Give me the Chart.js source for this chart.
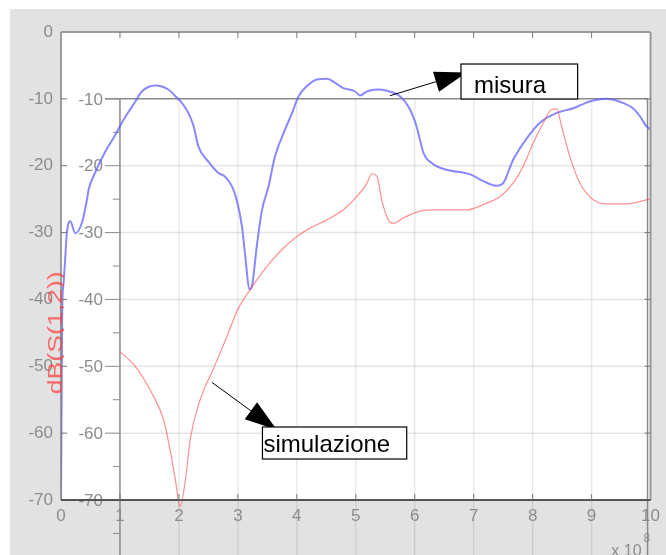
<!DOCTYPE html>
<html>
<head>
<meta charset="utf-8">
<script src="https://cdn.jsdelivr.net/npm/chart.js@4/dist/chart.umd.min.js"></script>
<style>
  html, body { margin: 0; padding: 0; background: #fff; }
  #fig { position: absolute; left: 10px; top: 9px; width: 656px; height: 546px; background: #e2e2e2; overflow: hidden; }
  canvas { display: block; }
</style>
</head>
<body>
<div id="fig"><canvas id="c" width="656" height="546"></canvas></div>
<script>
// Frequency axis (units of 1e8 Hz) and |S21| in dB
const misuraX = [0, 0.01, 0.02, 0.044, 0.073, 0.10, 0.158, 0.242, 0.356, 0.44, 0.468, 0.58, 0.75, 0.92, 1.03, 1.15, 1.26, 1.37, 1.60, 1.82, 1.94, 2.05, 2.16, 2.25, 2.33, 2.50, 2.67, 2.78, 2.90, 2.98, 3.07, 3.12, 3.20, 3.24, 3.32, 3.41, 3.52, 3.63, 3.80, 3.92, 4.03, 4.17, 4.34, 4.51, 4.65, 4.79, 4.99, 5.07, 5.19, 5.36, 5.53, 5.75, 5.92, 6.03, 6.15, 6.32, 6.54, 6.94, 7.16, 7.39, 7.50, 7.67, 7.90, 8.12, 8.41, 8.69, 8.97, 9.25, 9.47, 9.70, 9.82, 9.93, 10.0];
const misuraY = [-70, -56, -42, -37.5, -33.6, -30.0, -28.3, -30.1, -28.5, -25.1, -23.6, -21.0, -17.9, -15.4, -13.6, -11.9, -10.4, -8.9, -8.0, -8.6, -9.6, -10.6, -12.1, -14.1, -17.1, -19.4, -21.1, -21.6, -23.1, -25.1, -29.1, -33.1, -38.5, -38.0, -32.1, -26.6, -23.1, -18.6, -14.6, -12.1, -9.6, -8.1, -7.1, -7.0, -7.6, -8.4, -8.9, -9.5, -8.9, -8.6, -8.8, -9.6, -11.6, -14.1, -18.1, -19.8, -20.6, -21.3, -22.3, -23.0, -22.6, -19.1, -15.9, -13.6, -12.1, -11.4, -10.4, -10.0, -10.4, -11.4, -12.6, -14.1, -14.6];

const simX = [1.0, 1.26, 1.54, 1.74, 1.85, 1.94, 2.02, 2.11, 2.19, 2.36, 2.58, 2.78, 3.01, 3.21, 3.49, 3.72, 4.0, 4.23, 4.51, 4.79, 5.02, 5.19, 5.27, 5.36, 5.44, 5.55, 5.64, 5.81, 6.09, 6.32, 6.88, 7.22, 7.45, 7.67, 7.84, 8.01, 8.18, 8.32, 8.41, 8.49, 8.63, 8.80, 9.03, 9.25, 9.59, 9.93, 10.0];
const simY = [-47.8, -50.0, -54.0, -58.0, -62.5, -67.0, -71.0, -67.0, -61.0, -55.0, -50.5, -46.3, -41.3, -38.5, -35.1, -32.8, -30.6, -29.3, -28.1, -26.6, -24.6, -22.6, -21.2, -21.6, -25.1, -28.1, -28.6, -27.8, -26.8, -26.6, -26.6, -25.6, -24.6, -22.6, -20.1, -16.6, -13.6, -11.6, -11.5, -14.1, -18.6, -22.6, -25.1, -25.7, -25.7, -25.1, -24.9];

// Tick values
const xTicks = [0, 1, 2, 3, 4, 5, 6, 7, 8, 9, 10];
const yTicks = [0, -10, -20, -30, -40, -50, -60, -70];
const innerYTicks = [-10, -20, -30, -40, -50, -60, -70];
const innerGridX = [2, 3, 4, 5, 6, 7, 8, 9];
const innerGridY = [-20, -30, -40, -50, -60];

// Text callouts: box corners, arrow tail/tip in data units
const callouts = [
  { text: 'misura', box: [6.785, -4.79, 8.763, -10.02], tail: [5.58, -9.53], tip: [6.88, -6.04], dx: 13, dy: 29 },
  { text: 'simulazione', box: [3.417, -59.08, 5.864, -63.87], tail: [2.56, -52.41], tip: [3.66, -59.48], dx: 1, dy: 25.5 }
];

const FONT = '"Liberation Sans", Arial, sans-serif';
const TICK_COLOR = '#8c8c8c';

function line(ctx, x1, y1, x2, y2) {
  ctx.beginPath(); ctx.moveTo(x1, y1); ctx.lineTo(x2, y2); ctx.stroke();
}

const framePlugin = {
  id: 'frame',
  beforeDraw(chart) {
    const { ctx, chartArea: a, scales: { x, y } } = chart;
    const H = chart.height;
    const ix = x.getPixelForValue(1);
    const iTop = y.getPixelForValue(-10);
    const iRight = a.right - 3;
    ctx.save();
    // plot background
    ctx.fillStyle = '#ffffff';
    ctx.fillRect(a.left, a.top, a.right - a.left, a.bottom - a.top);

    // secondary axes grid
    ctx.lineWidth = 1.5;
    ctx.strokeStyle = 'rgba(0,0,0,0.085)';
    innerGridX.forEach(v => { const px = x.getPixelForValue(v); line(ctx, px, iTop, px, H); });
    ctx.strokeStyle = 'rgba(0,0,0,0.1)';
    innerGridY.forEach(v => { const py = y.getPixelForValue(v); line(ctx, ix, py, iRight, py); });

    // secondary axes box
    ctx.strokeStyle = '#8a8a8a';
    ctx.lineWidth = 1.5;
    line(ctx, ix - 15, iTop, iRight, iTop);
    line(ctx, ix, iTop, ix, H);
    line(ctx, iRight, iTop, iRight, H);

    // secondary y ticks (outside, major + minor)
    ctx.lineWidth = 1;
    ctx.strokeStyle = '#8a8a8a';
    for (let v = -10; v >= -85; v -= 5) {
      const py = y.getPixelForValue(v);
      if (py > H) break;
      const len = (v % 10 === 0) ? 15 : 7;
      line(ctx, ix - len, py, ix, py);
    }
    // secondary y labels
    ctx.fillStyle = TICK_COLOR;
    ctx.font = '17px ' + FONT;
    ctx.textAlign = 'right';
    ctx.textBaseline = 'middle';
    innerYTicks.forEach(v => ctx.fillText(String(v), ix - 17, y.getPixelForValue(v) + 1));
    ctx.restore();
  },
  afterDatasetsDraw(chart) {
    const { ctx, chartArea: a, scales: { x, y } } = chart;
    const H = chart.height;
    ctx.save();
    // main axes box
    ctx.lineWidth = 1.5;
    ctx.strokeStyle = '#808080';
    line(ctx, a.left, a.top, a.left, a.bottom);
    ctx.lineWidth = 2;
    ctx.strokeStyle = '#999999';
    line(ctx, a.left, a.top, a.right, a.top);
    line(ctx, a.right, a.top, a.right, a.bottom);
    ctx.strokeStyle = '#555555';
    line(ctx, a.left, a.bottom, a.right, a.bottom);

    // inward tick marks
    ctx.lineWidth = 1;
    ctx.strokeStyle = '#777777';
    xTicks.slice(1, -1).forEach(v => {
      const px = x.getPixelForValue(v);
      line(ctx, px, a.top, px, a.top + 6);
      line(ctx, px, a.bottom, px, a.bottom - 6);
    });
    yTicks.slice(1, -1).forEach(v => {
      const py = y.getPixelForValue(v);
      line(ctx, a.left, py, a.left + 6, py);
      line(ctx, a.right, py, a.right - 6, py);
    });

    // callouts
    callouts.forEach(c => {
      const bx0 = x.getPixelForValue(c.box[0]), by0 = y.getPixelForValue(c.box[1]);
      const bx1 = x.getPixelForValue(c.box[2]), by1 = y.getPixelForValue(c.box[3]);
      const tx = x.getPixelForValue(c.tail[0]), ty = y.getPixelForValue(c.tail[1]);
      const px = x.getPixelForValue(c.tip[0]), py = y.getPixelForValue(c.tip[1]);
      const dxv = px - tx, dyv = py - ty, L = Math.hypot(dxv, dyv);
      const ux = dxv / L, uy = dyv / L;
      const headLen = 32, headHalf = 10.5;
      const bxm = px - ux * headLen, bym = py - uy * headLen;
      ctx.strokeStyle = '#000'; ctx.lineWidth = 1;
      line(ctx, tx, ty, bxm, bym);
      ctx.fillStyle = '#000';
      ctx.beginPath();
      ctx.moveTo(px, py);
      ctx.lineTo(bxm - uy * headHalf, bym + ux * headHalf);
      ctx.lineTo(bxm + uy * headHalf, bym - ux * headHalf);
      ctx.closePath();
      ctx.fill();
      ctx.fillStyle = '#fff';
      ctx.fillRect(bx0, by0, bx1 - bx0, by1 - by0);
      ctx.lineWidth = 1.2;
      ctx.strokeRect(bx0, by0, bx1 - bx0, by1 - by0);
      ctx.fillStyle = '#000';
      ctx.font = '24px ' + FONT;
      ctx.textAlign = 'left';
      ctx.textBaseline = 'alphabetic';
      ctx.fillText(c.text, bx0 + c.dx, by0 + c.dy);
    });

    // exponent label
    ctx.fillStyle = TICK_COLOR;
    ctx.font = '16px ' + FONT;
    ctx.textAlign = 'right';
    ctx.textBaseline = 'alphabetic';
    ctx.fillText('x 10', a.right - 9, H + 1);
    ctx.font = '12px ' + FONT;
    ctx.textAlign = 'left';
    ctx.fillText('8', a.right - 7, H - 13);

    // y axis title (stretched, its lower edge tucked under the plot box)
    ctx.beginPath();
    ctx.rect(0, 0, a.left + 3, H);
    ctx.clip();
    ctx.translate(a.left + 1, y.getPixelForValue(-45));
    ctx.rotate(-Math.PI / 2);
    ctx.scale(1.27, 1);
    ctx.fillStyle = 'rgba(255,60,60,0.72)';
    ctx.font = '21px ' + FONT;
    ctx.textAlign = 'center';
    ctx.textBaseline = 'alphabetic';
    ctx.fillText('dB(S(1,2))', 0, 0);
    ctx.restore();
  }
};

const toPts = (xs, ys) => xs.map((v, i) => ({ x: v, y: ys[i] }));

new Chart(document.getElementById('c'), {
  type: 'line',
  data: {
    datasets: [
      {
        label: 'simulazione',
        data: toPts(simX, simY),
        borderColor: 'rgba(255,70,70,0.6)',
        borderWidth: 1.2,
        pointRadius: 0,
        cubicInterpolationMode: 'monotone',
        clip: { left: 0, top: 0, right: 0, bottom: 10 }
      },
      {
        label: 'misura',
        data: toPts(misuraX, misuraY),
        borderColor: 'rgba(90,90,255,0.72)',
        borderWidth: 2,
        pointRadius: 0,
        cubicInterpolationMode: 'monotone'
      }
    ]
  },
  options: {
    responsive: false,
    animation: false,
    devicePixelRatio: 1,
    layout: { padding: { top: 23, right: 15, left: 0, bottom: 0 } },
    plugins: { legend: { display: false }, tooltip: { enabled: false } },
    scales: {
      x: {
        type: 'linear', min: 0, max: 10,
        afterBuildTicks: s => { s.ticks = xTicks.map(v => ({ value: v })); },
        afterFit: s => { s.height = 55; },
        grid: { display: false, drawTicks: false },
        border: { display: false },
        ticks: { padding: 6, autoSkip: false, maxRotation: 0, color: TICK_COLOR, font: { family: FONT, size: 17 } }
      },
      y: {
        type: 'linear', min: -70, max: 0,
        afterBuildTicks: s => { s.ticks = yTicks.map(v => ({ value: v })); },
        afterFit: s => { s.width = 51; },
        grid: { display: false, drawTicks: false },
        border: { display: false },
        ticks: { padding: 8, autoSkip: false, color: TICK_COLOR, font: { family: FONT, size: 17 } }
      }
    }
  },
  plugins: [framePlugin]
});
</script>
</body>
</html>
